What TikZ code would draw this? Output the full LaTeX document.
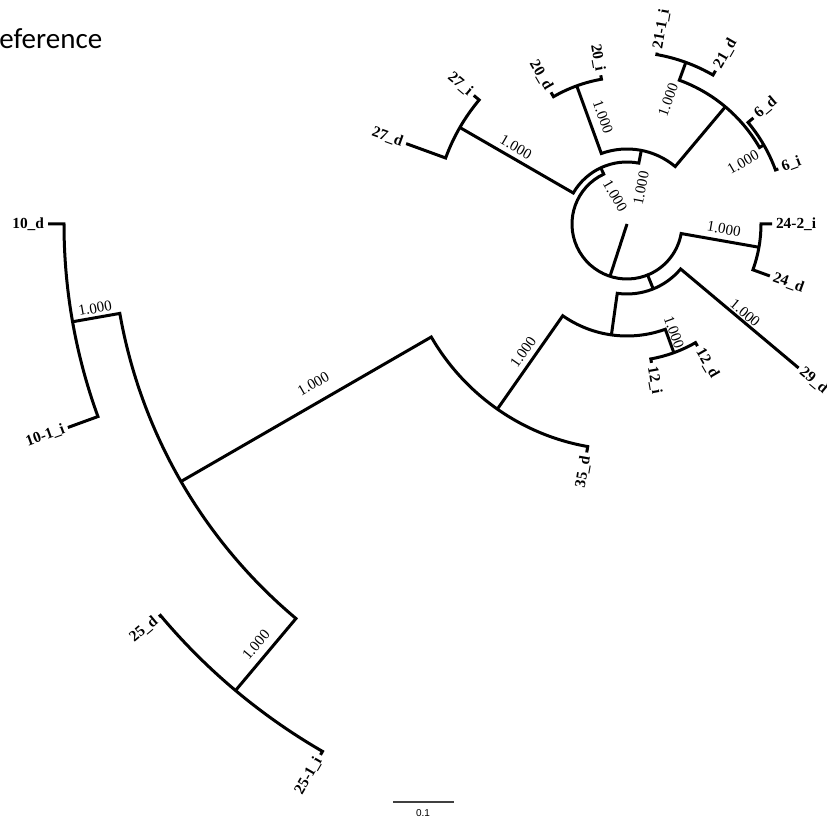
\documentclass[tikz,border=0pt]{standalone}
\usepackage{fontspec}
\setmainfont{Liberation Serif}
\newfontfamily\capfont{Carlito}
\newfontfamily\barfont{Liberation Sans}
\begin{document}
\begin{tikzpicture}[x=0.5pt,y=0.5pt,
		br/.style={black, line width=1.5pt},
		lfl/.style={font=\bfseries\fontsize{7.7}{8}\selectfont, anchor=east, inner sep=1.8pt},
		lfr/.style={font=\bfseries\fontsize{7.7}{8}\selectfont, anchor=west, inner sep=1.8pt},
		bl/.style={font=\fontsize{7.5}{8}\selectfont, inner sep=0pt}]
	\useasboundingbox (0,0) rectangle (827,-822);
	\node[anchor=base west, inner sep=0pt, font=\capfont\fontsize{14.5}{15}\selectfont] (R) at (-1,-49){eference};
	\begin{scope}[shift={(627,-224)}]
		\coordinate (O) at (0,0);
		\draw[br] (O) -- (252:55);
		\draw[br] (115:62) -- (115:55) arc[start angle=115, end angle=350, radius=55] -- (350:134);
		\draw[br] (292:55) -- (292:70);
		\draw[br] (79:75) -- (79:62) arc[start angle=79, end angle=150, radius=62] -- (150:193);
		\draw[br] (50:153) -- (50:75) arc[start angle=50, end angle=110, radius=75] -- (110:147);
		\draw[br] (30:158) -- (30:153) arc[start angle=30, end angle=70, radius=153] -- (70:172);
		\draw[br] (20:161) coordinate (l6i) -- (20:158) arc[start angle=20, end angle=40, radius=158] -- (40:165) coordinate (l6d);
		\draw[br] (60:177) coordinate (l21d) -- (60:172) arc[start angle=60, end angle=80, radius=172] -- (80:174) coordinate (l21i);
		\draw[br] (100:151) coordinate (l20i) -- (100:147) arc[start angle=100, end angle=120, radius=147] -- (120:152) coordinate (l20d);
		\draw[br] (140:200) coordinate (l27i) -- (140:193) arc[start angle=140, end angle=160, radius=193] -- (160:235) coordinate (l27d);
		\draw[br] (340:152) coordinate (l24d) -- (340:134) arc[start angle=340, end angle=360, radius=134] -- (0:145) coordinate (l24i);
		\draw[br] (262:112) -- (262:70) arc[start angle=262, end angle=320, radius=70] -- (320:224) coordinate (l29d);
		\draw[br] (235:226) -- (235:112) arc[start angle=235, end angle=290, radius=112] -- (290:137);
		\draw[br] (280:141) coordinate (l12i) -- (280:137) arc[start angle=280, end angle=300, radius=137] -- (300:141) coordinate (l12d);
		\draw[br] (210:515) -- (210:226) arc[start angle=210, end angle=260, radius=226] -- (260:232) coordinate (l35d);
		\draw[br] (190:563) -- (190:515) arc[start angle=190, end angle=230, radius=515] -- (230:609);
		\draw[br] (180:579) coordinate (l10d) -- (180:563) arc[start angle=180, end angle=200, radius=563] -- (200:595) coordinate (l10i);
		\draw[br] (220:611) coordinate (l25d) -- (220:609) arc[start angle=220, end angle=240, radius=609] -- (240:613) coordinate (l25i);
		\node[lfl, rotate=-40] (A) at (l27i){27\_i};
		\node[lfl, rotate=-20] (B) at (l27d){27\_d};
		\node[lfl, rotate=-60] (C) at (l20d){20\_d};
		\node[lfl, rotate=-80] (D) at (l20i){20\_i};
		\node[lfr, rotate=80] (E) at (l21i){21-1\_i};
		\node[lfr, rotate=60] (F) at (l21d){21\_d};
		\node[lfr, rotate=40] (G) at (l6d){6\_d};
		\node[lfr, rotate=20] (H) at (l6i){6\_i};
		\node[lfr] (I) at (l24i){24-2\_i};
		\node[lfr, rotate=-20] (J) at (l24d){24\_d};
		\node[lfr, rotate=-40] (K) at (l29d){29\_d};
		\node[lfr, rotate=-60] (L) at (l12d){12\_d};
		\node[lfr, rotate=-80] (M) at (l12i){12\_i};
		\node[lfl, rotate=80] (N) at (l35d){35\_d};
		\node[lfl] (P) at (l10d){10\_d};
		\node[lfl, rotate=20] (Q) at (l10i){10-1\_i};
		\node[lfl, rotate=40] (S) at (l25d){25\_d};
		\node[lfl, rotate=60] (T) at (l25i){25-1\_i};
		\node[bl, rotate=-30] (b27) at (145.3:135){1.000};
		\node[bl, rotate=-70] (b20) at (102.6:110){1.000};
		\node[bl, rotate=70] (b21) at (71.7:131){1.000};
		\node[bl, rotate=30] (b6) at (28:131.5){1.000};
		\node[bl, rotate=-60] (bT) at (113:30.5){1.000};
		\node[bl, rotate=79] (bS) at (68.7:38.6){1.000};
		\node[bl, rotate=-10] (b24) at (-3:97){1.000};
		\node[bl, rotate=-40] (b29) at (-37:148){1.000};
		\node[bl, rotate=-70] (b12) at (-66.5:118){1.000};
		\node[bl, rotate=55] (bW) at (231:165){1.000};
		\node[bl, rotate=30] (bV) at (207:352){1.000};
		\node[bl, rotate=10] (b10) at (189:538.6){1.000};
		\node[bl, rotate=50] (b25) at (228.6:561){1.000};
	\end{scope}
	\coordinate (s1) at (393,-802);
	\coordinate (s2) at (454,-802);
	\draw[black!75, line width=1pt] (s1) -- (s2);
	\node[font=\barfont\fontsize{5}{6}\selectfont] (U) at (423,-813){0.1};
\end{tikzpicture}
\end{document}
